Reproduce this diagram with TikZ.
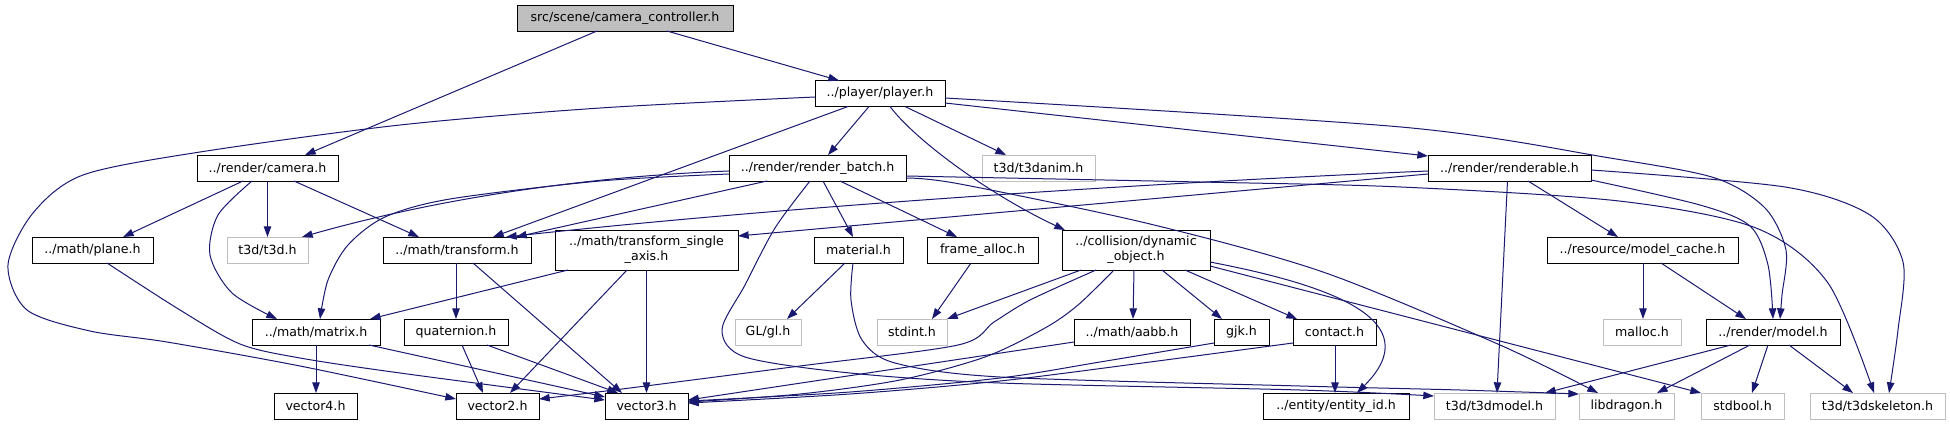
\documentclass[tikz,border=0pt]{standalone}
\usepackage{fontspec}
\setmainfont{DejaVu Sans}
\usetikzlibrary{arrows.meta,calc}
\definecolor{edgec}{HTML}{191970}
\definecolor{extc}{HTML}{BFBFBF}
\begin{document}
\begin{tikzpicture}[x=0.75pt,y=-0.75pt,
  nd/.style={draw=black, line width=0.75pt, fill=white, inner sep=0pt,
    minimum height=19.5pt, text=black, font=\fontsize{9.45}{11.25}\selectfont},
  ext/.style={nd, draw=extc},
  two/.style={minimum height=30pt, align=center},
  bw/.style={minimum width={#1*0.75pt}},
  e/.style={draw=edgec, line width=0.75pt, -{Triangle[length=8pt,width=5.6pt]}}]
\fill[white] (0,0) rectangle (1950,425);
\useasboundingbox (0,0) rectangle (1950,425);
% nodes
\node[nd, fill=extc, bw=216] (main) at (625,18.5) {src/scene/camera\_controller.h};
\node[nd, bw=130] (player) at (880,93.5) {../player/player.h};
\node[nd, bw=141] (camera) at (267.5,168) {../render/camera.h};
\node[nd, bw=177] (rbatch) at (817.5,168) {../render/render\_batch.h};
\node[ext, bw=113] (t3danim) at (1038.5,168) {t3d/t3danim.h};
\node[nd, bw=163] (renderable) at (1509.5,168) {../render/renderable.h};
\node[nd, bw=121] (plane) at (92.5,250) {../math/plane.h};
\node[ext, bw=81] (t3d) at (267.5,250) {t3d/t3d.h};
\node[nd, bw=148] (transform) at (457,250) {../math/transform.h};
\node[nd, two, bw=183] (tsa) at (646.5,250) {../math/transform\_single\\\_axis.h};
\node[nd, bw=89] (material) at (858.5,250) {material.h};
\node[nd, bw=111] (falloc) at (982.5,250) {frame\_alloc.h};
\node[nd, two, bw=148] (dynobj) at (1136,250) {../collision/dynamic\\\_object.h};
\node[nd, bw=191] (mcache) at (1642.5,250) {../resource/model\_cache.h};
\node[nd, bw=128] (matrix) at (316,332) {../math/matrix.h};
\node[nd, bw=104] (quat) at (456,332) {quaternion.h};
\node[ext, bw=66] (gl) at (768,332) {GL/gl.h};
\node[ext, bw=70] (stdint) at (912,332) {stdint.h};
\node[nd, bw=116] (aabb) at (1132,332) {../math/aabb.h};
\node[nd, bw=55] (gjk) at (1241.5,332) {gjk.h};
\node[nd, bw=83] (contact) at (1334.5,332) {contact.h};
\node[ext, bw=78] (malloc) at (1642,332) {malloc.h};
\node[nd, bw=134] (model) at (1773,332) {../render/model.h};
\node[nd, bw=83] (vec4) at (315.5,406) {vector4.h};
\node[nd, bw=83] (vec2) at (497.5,406) {vector2.h};
\node[nd, bw=83] (vec3) at (646.5,406) {vector3.h};
\node[nd, bw=146] (entity) at (1336,406) {../entity/entity\_id.h};
\node[ext, bw=121] (t3dmodel) at (1494.5,406) {t3d/t3dmodel.h};
\node[ext, bw=95] (libdragon) at (1626.5,406) {libdragon.h};
\node[ext, bw=83] (stdbool) at (1742.5,406) {stdbool.h};
\node[ext, bw=135] (t3dskel) at (1877.5,406) {t3d/t3dskeleton.h};
% main
\draw[e] ($(main)+(-28,12.5)$) -- ($(camera)+(37.5,-13)$);
\draw[e] ($(main)+(42,12.5)$) -- ($(player)+(-41,-13)$);
% player
\draw[e] plot[smooth] coordinates {($(player)+(-65,3.5)$) (600,108) (400,125) (200,152) (83,175) (33,213) (8,265) (27,310) (90,331) (167,342) (300,366) ($(vec2)+(-41.5,-7)$)};
\draw[e] ($(player)+(-11,13)$) -- ($(rbatch)+(10.5,-13)$);
\draw[e] ($(player)+(-32,13)$) -- ($(transform)+(36,-13)$);
\draw[e] ($(player)+(10,13)$) .. controls (915,140) and (990,195) .. ($(dynobj)+(-71,-20)$);
\draw[e] ($(player)+(25,13)$) -- ($(t3danim)+(-32.5,-13)$);
\draw[e] ($(player)+(65,9.5)$) -- ($(renderable)+(-81.5,-12)$);
\draw[e] plot[smooth] coordinates {($(player)+(65,4.5)$) (1401,127) (1610,158) (1715,178) (1765,208) (1786,250) (1782,295) ($(model)+(7,-13)$)};
% camera
\draw[e] ($(camera)+(-24.5,13)$) -- ($(plane)+(30.5,-13)$);
\draw[e] ($(camera)+(0,13)$) -- ($(t3d)+(0,-13)$);
\draw[e] ($(camera)+(26.5,13)$) -- ($(transform)+(-38,-13)$);
\draw[e] plot[smooth] coordinates {($(camera)+(-15.5,13)$) (218,215) (210,255) (232,293) ($(matrix)+(-39,-13)$)};
% render batch
\draw[e] ($(rbatch)+(-88.5,3)$) .. controls (600,176) and (450,195) .. ($(t3d)+(34.5,-13)$);
\draw[e] plot[smooth] coordinates {($(rbatch)+(-88.5,6)$) (600,181) (450,199) (385,217) (348,245) (328,280) ($(matrix)+(4,-13)$)};
\draw[e] ($(rbatch)+(-50.5,13)$) -- ($(transform)+(59,-13)$);
\draw[e] ($(rbatch)+(5.5,13)$) -- ($(material)+(-5.5,-13)$);
\draw[e] ($(rbatch)+(22.5,13)$) -- ($(falloc)+(-25.5,-13)$);
\draw[e] plot[smooth] coordinates {($(rbatch)+(-7.5,13)$) (775,228) (745,285) (722,330) (745,357) (850,373) (1000,383) (1300,390) ($(t3dmodel)+(-60.5,-10)$)};
\draw[e] plot[smooth] coordinates {($(rbatch)+(88.5,10)$) (960,184) (1150,224) (1323,272) (1500,345) ($(libdragon)+(-28.5,-13)$)};
\draw[e] plot[smooth] coordinates {($(rbatch)+(88.5,8)$) (1200,182) (1401,187) (1619,201) (1756,228) (1828,283) ($(t3dskel)+(-3.5,-13)$)};
% renderable
\draw[e] ($(renderable)+(-81.5,3)$) .. controls (1150,183) and (800,205) .. ($(transform)+(49,-13)$);
\draw[e] ($(renderable)+(-81.5,6)$) -- ($(tsa)+(91.5,-14)$);
\draw[e] ($(renderable)+(18.5,13)$) -- ($(mcache)+(-24.5,-13)$);
\draw[e] plot[smooth] coordinates {($(renderable)+(81.5,12)$) (1700,205) (1750,226) (1768,265) ($(model)+(0,-13)$)};
\draw[e] ($(renderable)+(-2,13)$) -- ($(t3dmodel)+(2.5,-13)$);
\draw[e] plot[smooth] coordinates {($(renderable)+(81.5,2)$) (1785,187) (1870,215) (1903,262) (1898,330) ($(t3dskel)+(11.5,-13)$)};
% transform
\draw[e] ($(transform)+(-1,13)$) -- ($(quat)+(0,-13)$);
\draw[e] ($(transform)+(16,13)$) -- ($(vec3)+(-24.5,-13)$);
% transform single axis
\draw[e] ($(tsa)+(-78.5,20)$) -- ($(matrix)+(54,-13)$);
\draw[e] ($(tsa)+(-19.5,20)$) -- ($(vec2)+(12.5,-13)$);
\draw[e] ($(tsa)+(0,20)$) -- ($(vec3)+(0,-13)$);
% plane
\draw[e] plot[smooth] coordinates {($(plane)+(14.5,13)$) (180,310) (240,344) (300,358) (400,373) ($(vec3)+(-41.5,-6)$)};
% matrix
\draw[e] ($(matrix)+(0,13)$) -- ($(vec4)+(0.5,-13)$);
\draw[e] ($(matrix)+(53,13)$) -- ($(vec3)+(-41.5,-9)$);
% quaternion
\draw[e] ($(quat)+(6,13)$) -- ($(vec2)+(-14.5,-13)$);
\draw[e] ($(quat)+(31,13)$) -- ($(vec3)+(-28.5,-13)$);
% material
\draw[e] ($(material)+(-13.5,13)$) -- ($(gl)+(19,-13)$);
\draw[e] plot[smooth] coordinates {($(material)+(-5.5,13)$) (851,300) (862,340) (895,363) (1000,377) (1300,386) (1460,390) ($(libdragon)+(-47.5,-12)$)};
% frame alloc
\draw[e] ($(falloc)+(-11.5,13)$) -- ($(stdint)+(20,-13)$);
% dynamic object
\draw[e] ($(dynobj)+(-55,20)$) -- ($(stdint)+(35,-13)$);
\draw[e] plot[smooth] coordinates {($(dynobj)+(-40,20)$) (1030,300) (994,322) (958,345) (800,366) (630,388) ($(vec2)+(41.5,-7)$)};
\draw[e] plot[smooth] coordinates {($(dynobj)+(-22,20)$) (1078,305) (1045,328) (985,357) (900,380) (800,394) ($(vec3)+(41.5,-4)$)};
\draw[e] ($(dynobj)+(-2,20)$) -- ($(aabb)+(1,-13)$);
\draw[e] ($(dynobj)+(26,20)$) -- ($(gjk)+(-19.5,-13)$);
\draw[e] ($(dynobj)+(49,20)$) -- ($(contact)+(-37.5,-13)$);
\draw[e] ($(dynobj)+(74,12)$) .. controls (1330,285) and (1430,320) .. ($(entity)+(21,-13)$);
\draw[e] ($(dynobj)+(74,16)$) -- ($(stdbool)+(-41.5,-13)$);
% aabb, gjk, contact
\draw[e] ($(aabb)+(-58,10)$) -- ($(vec3)+(41.5,-6)$);
\draw[e] plot[smooth] coordinates {($(gjk)+(-27.5,11)$) (1100,362) (1000,378) (850,392) ($(vec3)+(41.5,-5)$)};
\draw[e] plot[smooth] coordinates {($(contact)+(-41.5,11)$) (1150,362) (1000,381) (850,394) ($(vec3)+(41.5,-3)$)};
\draw[e] ($(contact)+(0.5,13)$) -- ($(entity)+(-1,-13)$);
% model cache, model
\draw[e] ($(mcache)+(0.5,13)$) -- ($(malloc)+(1,-13)$);
\draw[e] ($(mcache)+(18.5,13)$) -- ($(model)+(-27,-13)$);
\draw[e] ($(model)+(-42,13)$) -- ($(t3dmodel)+(50.5,-13)$);
\draw[e] ($(model)+(-23,13)$) -- ($(libdragon)+(30.5,-13)$);
\draw[e] ($(model)+(-5,13)$) -- ($(stdbool)+(9.5,-13)$);
\draw[e] ($(model)+(16,13)$) -- ($(t3dskel)+(-24.5,-13)$);
\end{tikzpicture}
\end{document}
